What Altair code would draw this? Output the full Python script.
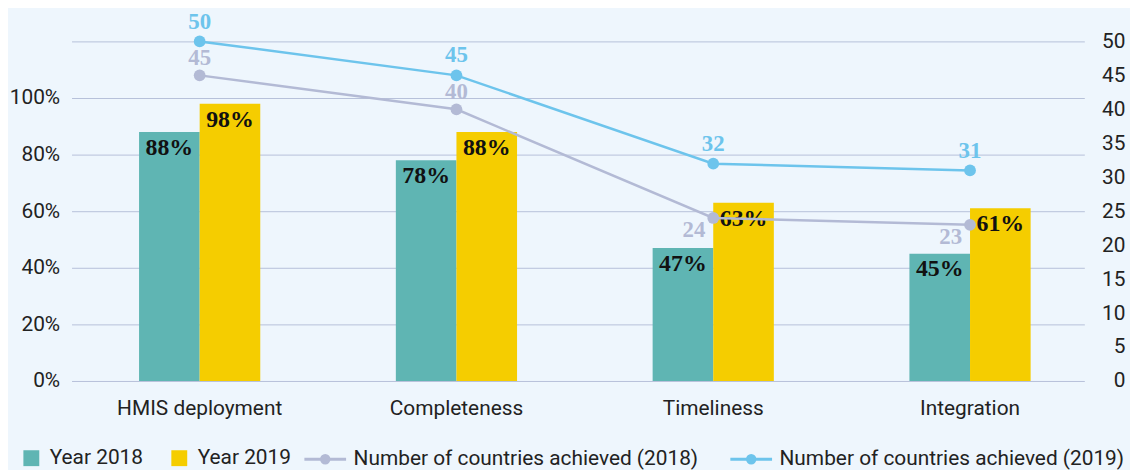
import altair as alt
import pandas as pd

categories = ["HMIS deployment", "Completeness", "Timeliness", "Integration"]
pct_2018 = [88, 78, 47, 45]
pct_2019 = [98, 88, 63, 61]
countries_2018 = [45, 40, 24, 23]
countries_2019 = [50, 45, 32, 31]
bar_series = ["Year 2018", "Year 2019"]
line_series = ["Number of countries achieved (2018)", "Number of countries achieved (2019)"]
left_ticks = [0, 20, 40, 60, 80, 100, 120]
right_ticks = [0, 5, 10, 15, 20, 25, 30, 35, 40, 45, 50]
below_2018 = ["Timeliness", "Integration"]

bar_colors = ["#5fb5b3", "#f5cd00"]
line_colors = ["#b3bad5", "#6dc4ec"]
BG = "#eef6fd"
GRID = "#b6c1da"
TXT = "#222222"
SANS = "Roboto"
SERIF = "Liberation Serif"
FS = 21

rows = []
for i, c in enumerate(categories):
    rows.append({"category": c, "series": bar_series[0], "value": pct_2018[i], "label": f"{pct_2018[i]}%"})
    rows.append({"category": c, "series": bar_series[1], "value": pct_2019[i], "label": f"{pct_2019[i]}%"})
bars_df = pd.DataFrame(rows)

lrows = []
for i, c in enumerate(categories):
    lrows.append({"category": c, "line": line_series[0], "count": countries_2018[i]})
    lrows.append({"category": c, "line": line_series[1], "count": countries_2019[i]})
lines_df = pd.DataFrame(lrows)

x_enc = alt.X(
    "category:N",
    sort=categories,
    scale=alt.Scale(domain=categories, paddingInner=0.528, paddingOuter=0.236, align=0.557),
    axis=alt.Axis(title=None, labelAngle=0, ticks=False, domain=False, grid=False,
                  labelFont=SANS, labelFontSize=FS, labelColor=TXT, labelPadding=17),
)
xoff = alt.XOffset("series:N", sort=bar_series,
                   scale=alt.Scale(domain=bar_series, paddingInner=0, paddingOuter=0))
y_left = alt.Y(
    "value:Q",
    scale=alt.Scale(domain=[0, 120], nice=False),
    axis=alt.Axis(title=None, orient="left", values=left_ticks, ticks=False, domain=False,
                  grid=True, gridColor=GRID, gridWidth=1, labelOverlap=False,
                  labelExpr="datum.value == 120 ? '' : datum.value + '%'",
                  labelFont=SANS, labelFontSize=FS, labelColor=TXT, labelPadding=12),
)

bars = alt.Chart(bars_df).mark_bar().encode(
    x=x_enc,
    xOffset=xoff,
    y=y_left,
    color=alt.Color("series:N", sort=bar_series,
                    scale=alt.Scale(domain=bar_series, range=bar_colors),
                    legend=alt.Legend(title=None, orient="none", legendX=-51, legendY=409,
                                      direction="horizontal", symbolType="square", symbolSize=256,
                                      symbolStrokeWidth=0, labelOffset=8, columnPadding=25,
                                      labelLimit=500, labelFont=SANS, labelFontSize=FS,
                                      labelColor=TXT)),
)
bar_text = alt.Chart(bars_df).mark_text(
    font=SERIF, fontWeight="bold", fontSize=24, baseline="top", dy=4, color="#111111"
).encode(x=x_enc, xOffset=xoff, y=y_left, text="label:N")

left_layer = alt.layer(bars, bar_text)

y_right = alt.Y(
    "count:Q",
    scale=alt.Scale(domain=[0, 50], nice=False),
    axis=alt.Axis(title=None, orient="right", values=right_ticks, ticks=False, domain=False,
                  grid=False, labelAlign="right", labelPadding=41, labelOverlap=False,
                  tickCount=11, labelFont=SANS, labelFontSize=FS, labelColor=TXT),
)

# legend glyph: a horizontal line plus a disc built from concentric stroked rings
ring_parts = []
for r in (0.07, 0.18):
    ring_parts.append(f"M{r},0A{r},{r},0,1,1,{-r},0A{r},{r},0,1,1,{r},0")
legend_path = "M-1,0L1,0" + "".join(ring_parts)

stroke_enc = alt.Stroke(
    "line:N", sort=line_series,
    scale=alt.Scale(domain=line_series, range=line_colors),
    legend=alt.Legend(title=None, orient="none", legendX=233, legendY=398,
                      direction="horizontal", symbolType=legend_path,
                      symbolSize=1764, symbolStrokeWidth=3, symbolFillColor="transparent",
                      labelOffset=6, columnPadding=25, labelLimit=500,
                      labelFont=SANS, labelFontSize=FS, labelColor=TXT),
)

lines = alt.Chart(lines_df).mark_line(strokeWidth=2.5).encode(
    x=x_enc, y=y_right, stroke=stroke_enc,
)
points = alt.Chart(lines_df).mark_point(size=140, opacity=1, filled=True, strokeWidth=0).encode(
    x=x_enc, y=y_right,
    fill=alt.Fill("line:N", sort=line_series,
                  scale=alt.Scale(domain=line_series, range=line_colors), legend=None),
)

lab_font = dict(font=SERIF, fontWeight="bold", fontSize=23)
lab19 = alt.Chart(lines_df).transform_filter(
    alt.FieldEqualPredicate(field="line", equal=line_series[1])
).mark_text(baseline="middle", dy=-20, color=line_colors[1], **lab_font).encode(
    x=x_enc, y=y_right, text="count:Q")
lab18_above = alt.Chart(lines_df).transform_filter(
    alt.FieldEqualPredicate(field="line", equal=line_series[0])
).transform_filter(
    {"not": alt.FieldOneOfPredicate(field="category", oneOf=below_2018)}
).mark_text(baseline="middle", dy=-17, color=line_colors[0], **lab_font).encode(
    x=x_enc, y=y_right, text="count:Q")
lab18_below = alt.Chart(lines_df).transform_filter(
    alt.FieldEqualPredicate(field="line", equal=line_series[0])
).transform_filter(
    alt.FieldOneOfPredicate(field="category", oneOf=below_2018)
).mark_text(baseline="middle", align="right", dx=-8, dy=12, color=line_colors[0], **lab_font).encode(
    x=x_enc, y=y_right, text="count:Q")

right_layer = alt.layer(lines, points, lab19, lab18_above, lab18_below)

chart = alt.layer(left_layer, right_layer).resolve_scale(
    y="independent"
).properties(
    width=1020, height=342,
    background=BG,
    padding={"left": 64, "top": 32, "right": 46, "bottom": 88},
    autosize=alt.AutoSizeParams(type="none"),
).configure_view(stroke=None)

chart.save("out.html", embed_options={"renderer": "svg", "actions": False})
